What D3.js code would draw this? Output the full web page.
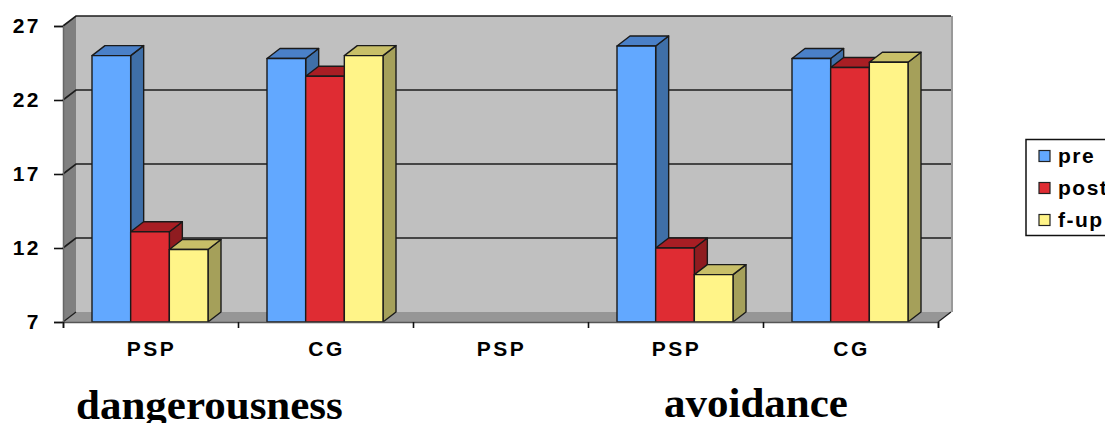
<!DOCTYPE html>
<html>
<head>
<meta charset="utf-8">
<script src="https://cdn.jsdelivr.net/npm/d3@7"></script>
<style>
  html, body { margin: 0; padding: 0; background: #fff; overflow: hidden; }
  svg { display: block; }
  text { font-family: "Liberation Sans", sans-serif; font-weight: bold; fill: #000; }
  .title { font-family: "Liberation Serif", serif; font-size: 43px; }
</style>
</head>
<body>
<script>
// values
var categories = ["PSP", "CG", "PSP", "PSP", "CG"];
var series = ["pre", "post", "f-up"];
var pre  = [25.0, 24.8, null, 25.65, 24.8];
var post = [13.1, 23.6, null, 12.0, 24.2];
var fup  = [11.9, 25.0, null, 10.2, 24.55];
var yTicks = [7, 12, 17, 22, 27];
var colors = ["#62a8ff", "#df2c33", "#fff488"];
var sideColors = ["#3f6fa8", "#8f1c20", "#a5a05a"];
var topColors = ["#4a80c8", "#a81e24", "#c8bf68"];

var width = 1105, height = 423;
var dx = 13, dy = -10;   // fake 3d depth

var svg = d3.select("body").append("svg")
    .attr("width", width)
    .attr("height", height);

var y = d3.scaleLinear().domain([7, 27]).range([322, 26]);
var x = d3.scaleLinear().domain([0, categories.length]).range([63, 938]);
var xSeries = d3.scaleBand().domain(series).range([0, 116]);
var barOffset = 29;

// walls and floor
var x0 = x.range()[0], x1 = x.range()[1], yTop = y(27), yBot = y(7);

svg.append("polygon")
    .attr("fill", "#c0c0c0")
    .attr("points", [[x0 + dx, yTop + dy], [x1 + dx, yTop + dy], [x1 + dx, yBot + dy], [x0 + dx, yBot + dy]].join(" "));
svg.append("polygon")
    .attr("fill", "#808080")
    .attr("points", [[x0, yTop], [x0 + dx, yTop + dy], [x0 + dx, yBot + dy], [x0, yBot]].join(" "));
svg.append("polygon")
    .attr("fill", "#969696")
    .attr("points", [[x0, yBot], [x0 + dx, yBot + dy], [x1 + dx, yBot + dy], [x1, yBot]].join(" "));
svg.append("line")
    .attr("x1", x1 + dx + 1).attr("x2", x1 + dx + 1)
    .attr("y1", yTop + dy).attr("y2", yBot + dy)
    .attr("stroke", "#999").attr("stroke-width", 2);

// gridlines, running round the left wall (27 is the top edge)
var grid = svg.append("g").attr("fill", "none").attr("stroke", "#1c1c1c");
grid.selectAll("path")
  .data(yTicks.slice(1))
  .enter().append("path")
    .attr("stroke-width", 1.6)
    .attr("d", function(d) {
      return "M" + x0 + "," + y(d) + "L" + (x0 + dx) + "," + (y(d) + dy) + "L" + (x1 + dx) + "," + (y(d) + dy);
    });
grid.append("path")
    .attr("stroke-width", 1.2)
    .attr("d", "M" + x0 + "," + yBot + "L" + (x0 + dx) + "," + (yBot + dy));
grid.append("path")
    .attr("stroke-width", 1.2)
    .attr("d", "M" + x1 + "," + yBot + "L" + (x1 + dx) + "," + (yBot + dy));

// bars
var values = [pre, post, fup];
var bars = [];
categories.forEach(function(c, i) {
  series.forEach(function(s, j) {
    if (values[j][i] != null) bars.push({cat: i, s: s, j: j, value: values[j][i]});
  });
});

function left(d) { return x(d.cat) + barOffset + xSeries(d.s); }
function right(d) { return left(d) + xSeries.bandwidth(); }

var bar = svg.append("g")
    .attr("stroke", "#1a1a1a")
    .attr("stroke-width", 1.4)
    .attr("stroke-linejoin", "round")
  .selectAll("g")
  .data(bars)
  .enter().append("g");

bar.append("polygon")
    .attr("fill", function(d) { return sideColors[d.j]; })
    .attr("points", function(d) {
      return [[right(d), y(d.value)], [right(d) + dx, y(d.value) + dy], [right(d) + dx, yBot + dy], [right(d), yBot]].join(" ");
    });
bar.append("polygon")
    .attr("fill", function(d) { return topColors[d.j]; })
    .attr("points", function(d) {
      return [[left(d), y(d.value)], [left(d) + dx, y(d.value) + dy], [right(d) + dx, y(d.value) + dy], [right(d), y(d.value)]].join(" ");
    });
bar.append("rect")
    .attr("fill", function(d) { return colors[d.j]; })
    .attr("x", left)
    .attr("y", function(d) { return y(d.value); })
    .attr("width", xSeries.bandwidth())
    .attr("height", function(d) { return yBot - y(d.value); });

// axes
var yAxis = d3.axisLeft(y).tickValues(yTicks).tickSize(9).tickPadding(13);
var xAxis = d3.axisBottom(x).ticks(categories.length).tickSize(6).tickFormat("");

var yG = svg.append("g")
    .attr("transform", "translate(" + x0 + ",0)")
    .call(yAxis);
yG.selectAll("line").attr("stroke", "#111").attr("stroke-width", 1.6);
yG.select(".domain").attr("stroke", "#666").attr("stroke-width", 1.5);
yG.selectAll("text")
    .attr("font-size", 21)
    .attr("letter-spacing", 2.5)
    .attr("font-family", "Liberation Sans")
    .attr("fill", "#000");

var xG = svg.append("g")
    .attr("transform", "translate(0," + yBot + ")")
    .call(xAxis);
xG.selectAll("line").attr("stroke", "#111").attr("stroke-width", 1.6);
xG.select(".domain").attr("stroke", "#555").attr("stroke-width", 1.6);

svg.append("g").selectAll("text")
  .data(categories)
  .enter().append("text")
    .attr("x", function(d, i) { return x(i + 0.5) + 1; })
    .attr("y", 356)
    .attr("text-anchor", "middle")
    .attr("font-size", 21)
    .attr("letter-spacing", 2.5)
    .text(function(d) { return d; });

// big labels under the chart
svg.append("text").attr("class", "title").attr("x", 76).attr("y", 419).text("dangerousness");
svg.append("text").attr("class", "title").attr("x", 664).attr("y", 417).text("avoidance");

// legend, runs off the right edge like the original
var legend = svg.append("g");
legend.append("rect")
    .attr("x", 1026).attr("y", 139.5)
    .attr("width", 100).attr("height", 96)
    .attr("fill", "#fff").attr("stroke", "#111").attr("stroke-width", 1.5);

var legendY = d3.scalePoint().domain(series).range([156, 220]);

var item = legend.selectAll("g")
  .data(series)
  .enter().append("g")
    .attr("transform", function(d) { return "translate(0," + legendY(d) + ")"; });
item.append("rect")
    .attr("x", 1039).attr("y", -5.5)
    .attr("width", 11).attr("height", 11)
    .attr("fill", function(d, i) { return colors[i]; })
    .attr("stroke", "#222").attr("stroke-width", 1.2);
item.append("text")
    .attr("x", 1058).attr("y", 6.5)
    .attr("font-size", 21)
    .attr("letter-spacing", 1.5)
    .text(function(d) { return d; });
</script>
</body>
</html>
